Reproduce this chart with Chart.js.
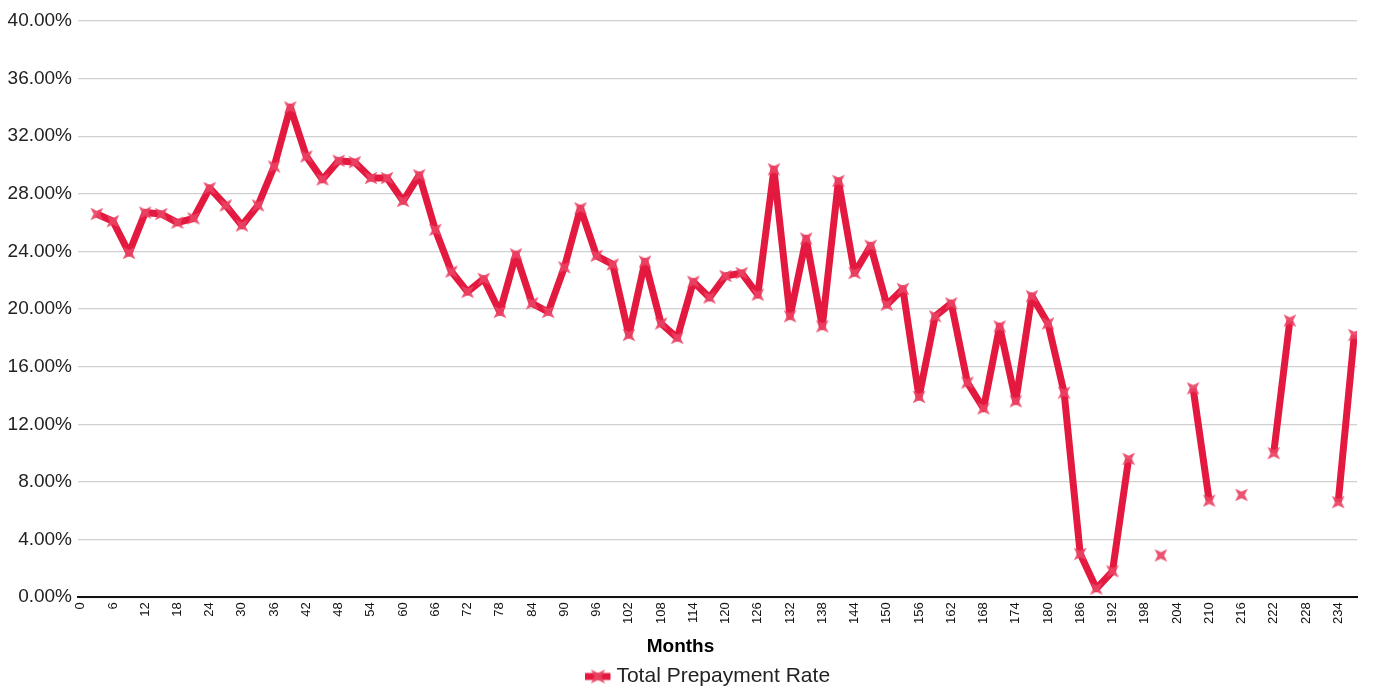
<!DOCTYPE html>
<html>
<head>
<meta charset="utf-8">
<script src="https://cdn.jsdelivr.net/npm/chart.js@4.4.1/dist/chart.umd.min.js"></script>
<style>
  html, body { margin: 0; padding: 0; background: #fff; }
</style>
</head>
<body>
<canvas id="prepayChart" width="1375" height="688"></canvas>
<script>
// loan age in months (one point every 3 months)
var months = [3, 6, 9, 12, 15, 18, 21, 24, 27, 30, 33, 36, 39, 42, 45, 48, 51, 54, 57, 60,
  63, 66, 69, 72, 75, 78, 81, 84, 87, 90, 93, 96, 99, 102, 105, 108, 111, 114, 117, 120,
  123, 126, 129, 132, 135, 138, 141, 144, 147, 150, 153, 156, 159, 162, 165, 168, 171, 174, 177, 180,
  183, 186, 189, 192, 195, 198, 201, 204, 207, 210, 213, 216, 219, 222, 225, 228, 231, 234, 237];

// total prepayment rate, % (null = no data)
var prepayRate = [26.6, 26.1, 23.9, 26.7, 26.6, 26.0, 26.3, 28.4, 27.2, 25.8, 27.2, 29.9, 34.0, 30.6, 29.0, 30.3, 30.2, 29.1, 29.1, 27.5,
  29.3, 25.5, 22.6, 21.2, 22.1, 19.8, 23.8, 20.4, 19.8, 22.9, 27.0, 23.7, 23.1, 18.2, 23.3, 19.0, 18.0, 21.9, 20.8, 22.3,
  22.5, 21.0, 29.7, 19.5, 24.9, 18.8, 28.9, 22.5, 24.4, 20.3, 21.4, 13.9, 19.5, 20.4, 14.9, 13.1, 18.8, 13.6, 20.9, 19.0,
  14.2, 3.0, 0.6, 1.8, 9.6, null, 2.9, null, 14.5, 6.7, null, 7.1, null, 10.0, 19.2, null, null, 6.6, 18.2];

var xTickLabels = [0, 6, 12, 18, 24, 30, 36, 42, 48, 54, 60, 66, 72, 78, 84, 90, 96, 102, 108, 114,
  120, 126, 132, 138, 144, 150, 156, 162, 168, 174, 180, 186, 192, 198, 204, 210, 216, 222, 228, 234];

var lineColor = '#e3193f';
var markerColor = 'rgba(234, 66, 100, 0.92)';

function drawStar(g, cx, cy, r, color) {
  var ri = r * 0.36;
  g.beginPath();
  for (var k = 0; k < 8; k++) {
    var a = Math.PI / 4 * (k + 1);
    var rr = k % 2 === 0 ? r : ri;
    var px = cx + rr * Math.cos(a), py = cy + rr * Math.sin(a);
    if (k === 0) g.moveTo(px, py); else g.lineTo(px, py);
  }
  g.closePath();
  g.fillStyle = color;
  g.fill();
}

// point marker: 4 pointed star
var starImg = document.createElement('canvas');
starImg.width = 18;
starImg.height = 18;
drawStar(starImg.getContext('2d'), 9, 9, 9, markerColor);

// legend icon: line + star, drawn left of the canvas centre
var legendIcon = document.createElement('canvas');
legendIcon.width = 40;
legendIcon.height = 20;
var lg = legendIcon.getContext('2d');
lg.strokeStyle = lineColor;
lg.lineWidth = 7;
lg.beginPath();
lg.moveTo(0, 10);
lg.lineTo(25, 10);
lg.stroke();
drawStar(lg, 12.5, 10, 10, markerColor);

var ctx = document.getElementById('prepayChart').getContext('2d');
var chart = new Chart(ctx, {
  type: 'line',
  data: {
    datasets: [{
      label: 'Total Prepayment Rate',
      data: months.map(function (m, i) { return { x: m, y: prepayRate[i] }; }),
      borderColor: lineColor,
      backgroundColor: lineColor,
      borderWidth: 7,
      borderJoinStyle: 'round',
      tension: 0,
      spanGaps: false,
      pointStyle: starImg,
      pointRadius: 4
    }]
  },
  options: {
    responsive: false,
    animation: false,
    layout: { padding: { left: 4, right: 18, top: 21, bottom: 0 } },
    scales: {
      x: {
        type: 'linear',
        min: -0.5,
        max: 237.5,
        afterBuildTicks: function (axis) {
          axis.ticks = xTickLabels.map(function (v) { return { value: v }; });
        },
        afterFit: function (scale) { scale.height = 34; },
        grid: { display: false, drawTicks: false },
        border: { display: true, color: '#111', width: 2 },
        ticks: {
          autoSkip: false,
          minRotation: 90,
          maxRotation: 90,
          padding: 5,
          color: '#111',
          font: { family: 'Liberation Sans, Arial, sans-serif', size: 13 },
          callback: function (v) { return String(v); }
        }
      },
      y: {
        min: 0,
        max: 40,
        afterFit: function (scale) { scale.width = 74; },
        grid: { color: '#d0d0d0', lineWidth: 1.3, drawTicks: false },
        border: { display: false },
        ticks: {
          stepSize: 4,
          padding: 6,
          color: '#222',
          font: { family: 'Liberation Sans, Arial, sans-serif', size: 19 },
          callback: function (v) { return v.toFixed(2) + '%'; }
        }
      }
    },
    plugins: {
      title: {
        display: true,
        text: 'Months',
        position: 'bottom',
        weight: 500,
        color: '#000',
        padding: { top: 4, bottom: 4 },
        font: { family: 'Liberation Sans, Arial, sans-serif', size: 19, weight: 'bold' }
      },
      legend: {
        position: 'bottom',
        fullSize: false,
        maxHeight: 26,
        labels: {
          usePointStyle: true,
          pointStyleWidth: 1,
          padding: 4,
          color: '#222',
          font: { family: 'Liberation Sans, Arial, sans-serif', size: 21 },
          generateLabels: function (c) {
            var items = Chart.defaults.plugins.legend.labels.generateLabels(c);
            items.forEach(function (it) { it.pointStyle = legendIcon; });
            return items;
          }
        }
      },
      tooltip: { enabled: false }
    }
  }
});
</script>
</body>
</html>
